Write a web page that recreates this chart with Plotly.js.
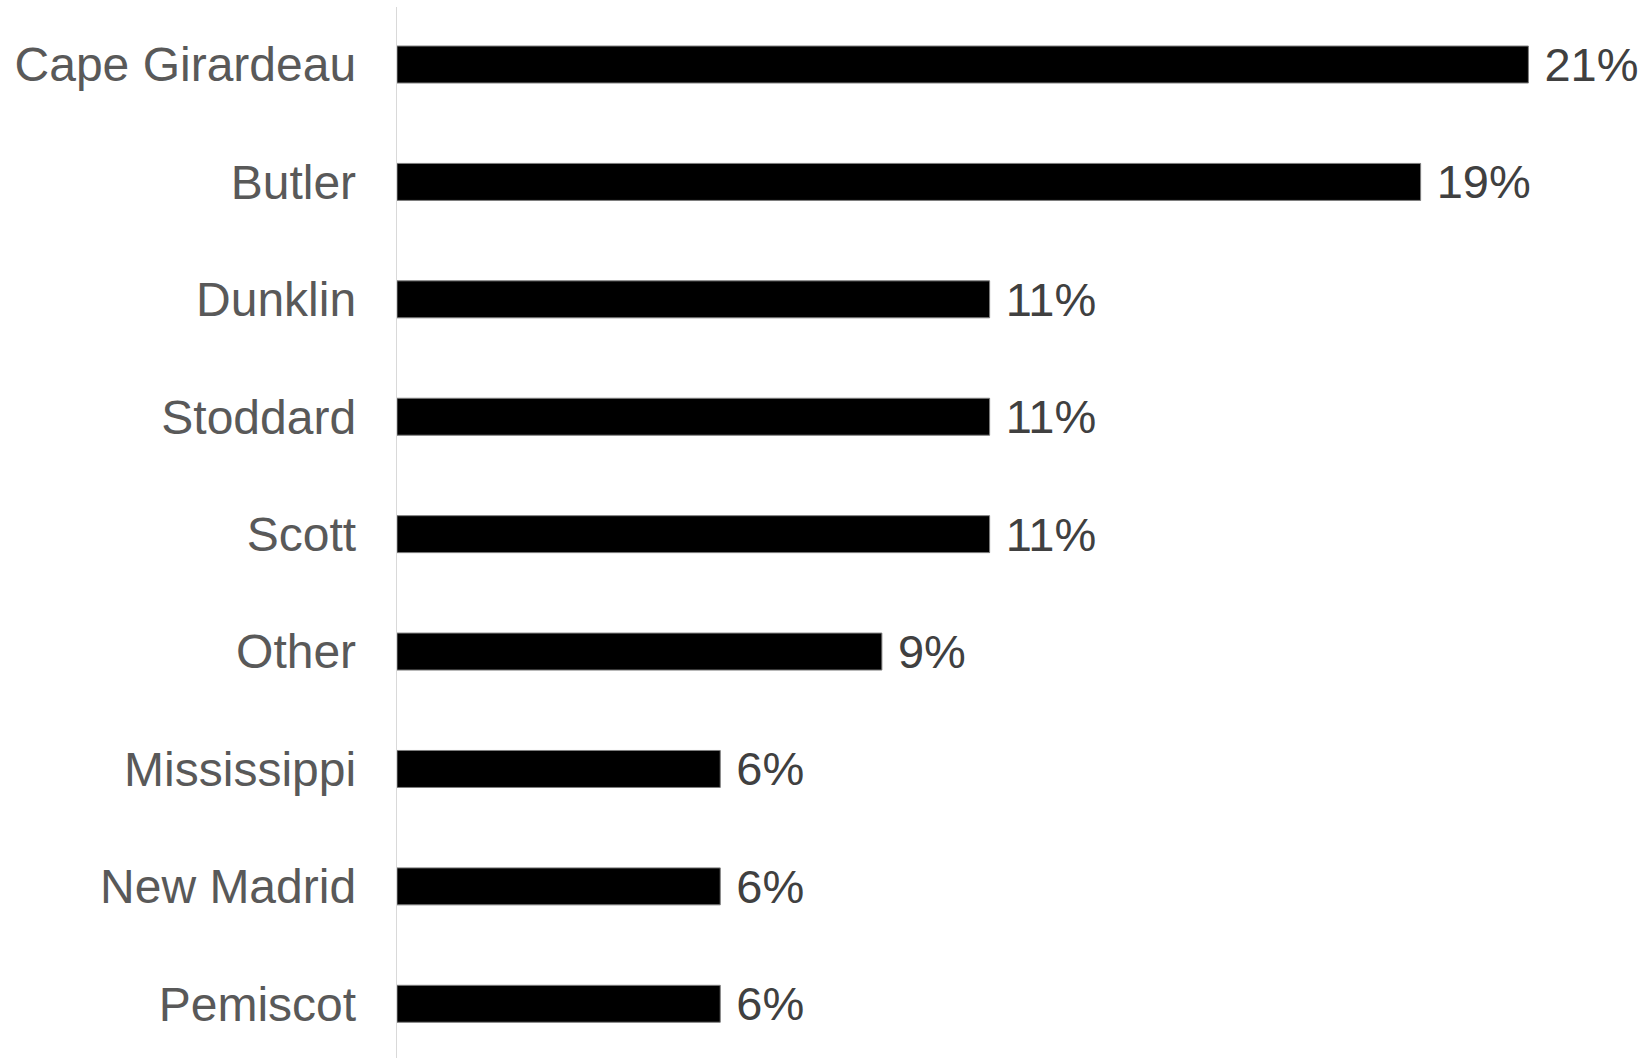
<!DOCTYPE html>
<html>
<head>
<meta charset="utf-8">
<script src="https://cdn.plot.ly/plotly-3.0.1.min.js"></script>
<style>
html,body{margin:0;padding:0;background:#fff;}
#chart{width:1648px;height:1058px;}
</style>
</head>
<body>
<div id="chart"></div>
<script>
const counties = ["Cape Girardeau","Butler","Dunklin","Stoddard","Scott","Other","Mississippi","New Madrid","Pemiscot"];
const shares = [21,19,11,11,11,9,6,6,6];

const trace = {
  type: 'bar',
  orientation: 'h',
  y: counties,
  x: shares,
  marker: {color: '#000000', line: {color: '#7f7f7f', width: 1}},
  text: shares.map(v => '\u00a0' + v + '%'),
  texttemplate: '%{text}',
  textposition: 'outside',
  constraintext: 'none',
  cliponaxis: false,
  textfont: {family: 'Liberation Sans', size: 47, color: '#404040'},
  hoverinfo: 'none'
};

const layout = {
  width: 1648,
  height: 1058,
  margin: {l: 397, r: 0, t: 7, b: 0, pad: 0},
  paper_bgcolor: '#ffffff',
  plot_bgcolor: '#ffffff',
  showlegend: false,
  bargap: 0.685,
  font: {family: 'Liberation Sans', color: '#595959'},
  xaxis: {
    range: [0, 23.22],
    showgrid: false,
    zeroline: false,
    showticklabels: false,
    showline: false,
    ticks: ''
  },
  yaxis: {
    type: 'category',
    categoryorder: 'array',
    categoryarray: counties,
    range: [8.4617, -0.4898],
    showgrid: false,
    zeroline: false,
    showline: true,
    linecolor: '#d9d9d9',
    linewidth: 1.3,
    ticks: '',
    ticklabelstandoff: 30,
    tickfont: {family: 'Liberation Sans', size: 48, color: '#595959'}
  }
};

Plotly.newPlot('chart', [trace], layout, {displayModeBar: false, staticPlot: true});
</script>
</body>
</html>
